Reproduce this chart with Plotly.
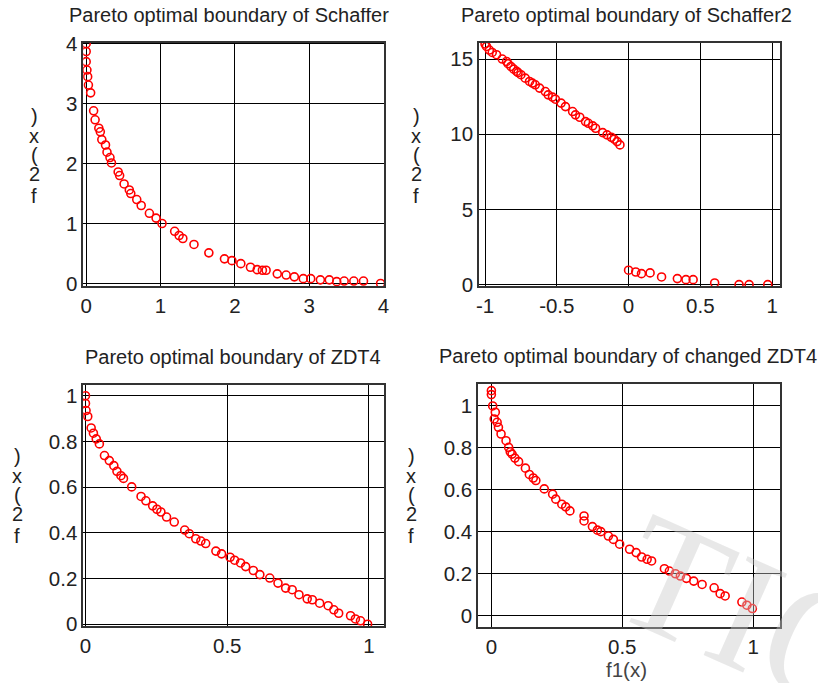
import plotly.graph_objects as go

# ---------------- data ----------------
schaffer_f1 = [0.0, 0.0, 0.0, 0.01, 0.02, 0.03, 0.06, 0.10, 0.12, 0.17, 0.19, 0.21, 0.26, 0.28, 0.32, 0.34,
               0.43, 0.45, 0.51, 0.58, 0.60, 0.68, 0.74, 0.85, 0.94, 1.02, 1.19, 1.25, 1.30, 1.45, 1.65,
               1.86, 1.96, 2.08, 2.21, 2.30, 2.37, 2.42, 2.57, 2.69, 2.80, 2.92, 3.02, 3.15, 3.27, 3.37,
               3.47, 3.60, 3.73, 3.96]
schaffer_f2 = [4.0, 3.87, 3.70, 3.56, 3.45, 3.31, 3.18, 2.88, 2.73, 2.59, 2.53, 2.40, 2.31, 2.19, 2.10, 2.01,
               1.86, 1.80, 1.66, 1.56, 1.50, 1.40, 1.30, 1.17, 1.09, 1.00, 0.87, 0.80, 0.75, 0.65, 0.51,
               0.41, 0.38, 0.33, 0.27, 0.23, 0.22, 0.22, 0.16, 0.14, 0.11, 0.08, 0.08, 0.06, 0.06, 0.03,
               0.04, 0.04, 0.04, 0.0]

schaffer2_f1 = [-1.00, -0.99, -0.97, -0.95, -0.92, -0.88, -0.85, -0.84, -0.82, -0.80, -0.78, -0.77, -0.75,
                -0.72, -0.69, -0.67, -0.65, -0.62, -0.58, -0.56, -0.53, -0.51, -0.47, -0.44, -0.39, -0.37,
                -0.34, -0.30, -0.28, -0.25, -0.23, -0.18, -0.15, -0.12, -0.10, -0.08, -0.06,
                0.00, 0.05, 0.09, 0.15, 0.23, 0.34, 0.40, 0.45, 0.60, 0.77, 0.84, 0.97]
schaffer2_f2 = [16.0, 15.84, 15.6, 15.44, 15.29, 15.0, 14.84, 14.69, 14.51, 14.33, 14.18, 14.1, 13.96,
                13.73, 13.51, 13.40, 13.29, 13.07, 12.84, 12.62, 12.47, 12.33, 12.07, 11.84, 11.51, 11.29,
                11.13, 10.84, 10.73, 10.56, 10.40, 10.11, 9.96, 9.80, 9.67, 9.51, 9.29,
                0.96, 0.84, 0.73, 0.78, 0.51, 0.40, 0.33, 0.33, 0.11, 0.0, 0.0, 0.0]

zdt4_f1 = [0.0, 0.0, 0.002, 0.008, 0.02, 0.028, 0.038, 0.049, 0.067, 0.084, 0.10, 0.111, 0.125, 0.134,
           0.163, 0.196, 0.213, 0.237, 0.252, 0.266, 0.286, 0.313, 0.35, 0.366, 0.389, 0.407, 0.424,
           0.46, 0.48, 0.51, 0.526, 0.547, 0.565, 0.592, 0.615, 0.65, 0.679, 0.706, 0.729, 0.753, 0.782,
           0.80, 0.826, 0.856, 0.876, 0.893, 0.935, 0.952, 0.97, 0.995]
zdt4_f2 = [1.0, 0.966, 0.935, 0.909, 0.859, 0.836, 0.811, 0.789, 0.738, 0.716, 0.694, 0.669, 0.65, 0.638,
           0.601, 0.559, 0.540, 0.518, 0.503, 0.491, 0.469, 0.447, 0.412, 0.396, 0.374, 0.364, 0.353,
           0.320, 0.308, 0.293, 0.280, 0.268, 0.252, 0.235, 0.217, 0.202, 0.180, 0.158, 0.151, 0.129, 0.111,
           0.107, 0.092, 0.081, 0.063, 0.048, 0.037, 0.023, 0.015, 0.0]

czdt4_f1 = [0.0, 0.0, 0.005, 0.015, 0.011, 0.022, 0.027, 0.037, 0.056, 0.066, 0.072, 0.079, 0.09, 0.104,
            0.13, 0.145, 0.16, 0.17, 0.202, 0.234, 0.246, 0.269, 0.284, 0.30, 0.354, 0.354, 0.386, 0.405,
            0.418, 0.447, 0.466, 0.49, 0.528, 0.553, 0.574, 0.595, 0.612, 0.661, 0.68, 0.703, 0.722,
            0.745, 0.773, 0.805, 0.851, 0.874, 0.893, 0.957, 0.976, 0.997]
czdt4_f2 = [1.073, 1.054, 1.0, 0.97, 0.938, 0.922, 0.898, 0.866, 0.834, 0.802, 0.781, 0.77, 0.751, 0.734,
            0.703, 0.673, 0.656, 0.644, 0.604, 0.579, 0.555, 0.531, 0.518, 0.499, 0.475, 0.451, 0.424, 0.407,
            0.40, 0.379, 0.363, 0.340, 0.316, 0.30, 0.279, 0.268, 0.260, 0.223, 0.212, 0.199, 0.188,
            0.177, 0.164, 0.148, 0.132, 0.104, 0.093, 0.064, 0.049, 0.033]

titles = ["Pareto optimal boundary of Schaffer", "Pareto optimal boundary of Schaffer2",
          "Pareto optimal boundary of ZDT4", "Pareto optimal boundary of changed ZDT4"]

p1_xticks = [0, 1, 2, 3, 4]
p1_yticks = [0, 1, 2, 3, 4]
p2_xticks = [-1, -0.5, 0, 0.5, 1]
p2_xticktext = ["-1", "-0.5", "0", "0.5", "1"]
p2_yticks = [0, 5, 10, 15]
p3_xticks = [0, 0.5, 1]
p3_yticks = [0, 0.2, 0.4, 0.6, 0.8, 1]
ytick_text_frac = ["0", "0.2", "0.4", "0.6", "0.8", "1"]

ylabel_chars = [")", "x", "(", "2", "f"]
xlabel_text = "f1(x)"
watermark_text = "TIO"

# ---------------- figure ----------------
W, H = 826, 683
FONT = "Liberation Sans, Arial, sans-serif"
TXT = "#222222"

# the page is photographed with a small offset/scale; map wanted screen pixels to figure pixels
SX, BX = 0.9933, 9.57
SY, BY = 0.9677, 19.4


def fx(rx):
    return ((rx - BX) / SX) / W


def fy(ry):
    return 1 - ((ry - BY) / SY) / H


def dom_x(a, b):
    return [fx(a), fx(b)]


def dom_y(top, bottom):
    return [fy(bottom), fy(top)]


fig = go.Figure()

marker = dict(symbol="circle-open", color="red", size=8, line=dict(width=1.6, color="red"))

series = [(schaffer_f1, schaffer_f2), (schaffer2_f1, schaffer2_f2), (zdt4_f1, zdt4_f2), (czdt4_f1, czdt4_f2)]
for i, (xs, ys) in enumerate(series):
    ax = "" if i == 0 else str(i + 1)
    fig.add_trace(go.Scatter(x=xs, y=ys, mode="markers", marker=marker,
                             xaxis="x" + ax, yaxis="y" + ax, showlegend=False, hoverinfo="x+y"))

common = dict(showline=True, linecolor="#333333", linewidth=1.5, mirror=True,
              showgrid=True, gridcolor="#000000", gridwidth=1, zeroline=False,
              ticks="", tickfont=dict(family=FONT, size=20.5, color=TXT), fixedrange=True)

fig.update_layout(
    width=W, height=H, margin=dict(l=0, r=0, t=0, b=0),
    paper_bgcolor="white", plot_bgcolor="white",
    xaxis=dict(domain=dom_x(82, 384), range=[-0.04, 4.01], tickvals=p1_xticks, anchor="y", **common),
    yaxis=dict(domain=dom_y(43, 286), range=[-0.05, 4.017], tickvals=p1_yticks, anchor="x", **common),
    xaxis2=dict(domain=dom_x(479, 781), range=[-1.042, 1.056], tickvals=p2_xticks, ticktext=p2_xticktext,
                anchor="y2", **common),
    yaxis2=dict(domain=dom_y(43, 286), range=[-0.12, 16.09], tickvals=p2_yticks, anchor="x2", **common),
    xaxis3=dict(domain=dom_x(82, 384), range=[-0.008, 1.054], tickvals=p3_xticks, anchor="y3", **common),
    yaxis3=dict(domain=dom_y(384, 625), range=[-0.010, 1.048], tickvals=p3_yticks, ticktext=ytick_text_frac,
                anchor="x3", **common),
    xaxis4=dict(domain=dom_x(478, 781), range=[-0.051, 1.103], tickvals=p3_xticks, anchor="y4", **common),
    yaxis4=dict(domain=dom_y(383, 626), range=[-0.0575, 1.106], tickvals=p3_yticks, ticktext=ytick_text_frac,
                anchor="x4", **common),
)

ann = []
# faint watermark
ann.append(dict(text=watermark_text, x=fx(755), y=fy(615), xref="paper", yref="paper",
                showarrow=False, textangle=24,
                font=dict(family="Liberation Serif, serif", size=165, color="rgba(200,200,200,0.42)"),
                xanchor="center", yanchor="middle"))
# titles
title_pos = [(228, 15), (627, 15), (232, 356), (628, 355)]
for t, (cx, cy) in zip(titles, title_pos):
    ann.append(dict(text=t, x=fx(cx), y=fy(cy), xref="paper", yref="paper", showarrow=False,
                    font=dict(family=FONT, size=20, color=TXT), xanchor="center", yanchor="middle"))
# stacked y labels
label_pos = [(33, 0), (416, 0), (16, 339), (411, 339)]
char_y = [116, 136, 155, 174, 196]
for (lx, dy) in label_pos:
    for ch, cy in zip(ylabel_chars, char_y):
        ann.append(dict(text=ch, x=fx(lx), y=fy(cy + dy), xref="paper", yref="paper", showarrow=False,
                        font=dict(family=FONT, size=20, color=TXT), xanchor="center", yanchor="middle"))
# x label
ann.append(dict(text=xlabel_text, x=fx(627), y=fy(668), xref="paper", yref="paper", showarrow=False,
                font=dict(family=FONT, size=20.5, color="#444444"), xanchor="center", yanchor="middle"))

fig.update_layout(annotations=ann)
fig.write_html("out.html")
